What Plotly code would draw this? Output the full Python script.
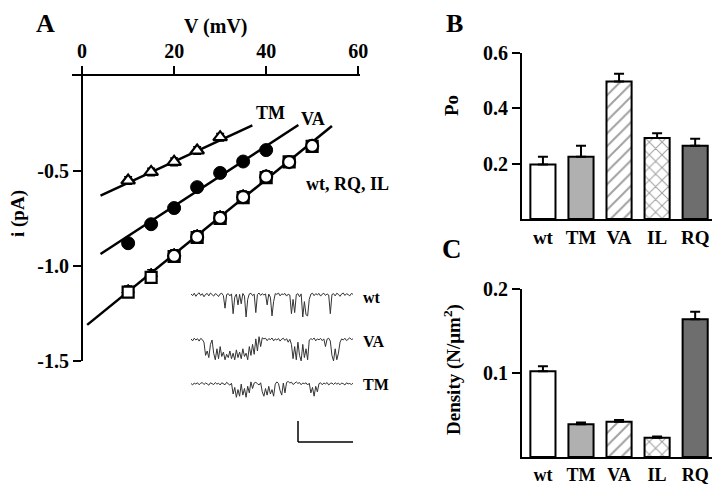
import plotly.graph_objects as go

# ---------------- Panel A data: single-channel i-V ----------------
V_TM = [10, 15, 20, 25, 30]
i_TM = [-0.55, -0.505, -0.452, -0.392, -0.322]
V_VA = [10, 15, 20, 25, 30, 35, 40]
i_VA = [-0.88, -0.78, -0.695, -0.585, -0.51, -0.45, -0.39]
V_WT = [20, 25, 30, 35, 40, 45, 50]
i_WT = [-0.947, -0.847, -0.747, -0.637, -0.53, -0.453, -0.368]
V_RQ = [10, 15, 20, 25, 30, 35, 40, 45, 50]
i_RQ = [-1.137, -1.06, -0.95, -0.85, -0.75, -0.64, -0.535, -0.452, -0.37]
V_IL = [10, 15, 20, 25, 30, 35, 40, 45, 50]
i_IL = [-1.125, -1.04, -0.935, -0.835, -0.735, -0.625, -0.52, -0.445, -0.36]
iv_err = 0.02

fit_TM_V = [4, 37]
fit_TM_i = [-0.63, -0.26]
fit_VA_V = [4, 47]
fit_VA_i = [-0.937, -0.258]
fit_WT_V = [1.1, 54.3]
fit_WT_i = [-1.31, -0.263]

# ---------------- Example single-channel recordings ----------------
trace_wt = [0.05, -0.03, 0.08, -0.06, 0.04, 0.10, -0.02, 0.06, -0.08, 0.03,
            0.07, -0.04, 0.09, 0.00, -0.05, 0.06, 0.02, -0.07, 0.05, 0.08,
            -0.03, -0.60, 0.02, 0.06, -0.04, 0.05, -0.85, -0.10, 0.04, -0.45,
            0.03, -0.40, 0.07, -0.05, -1.00, -0.20, 0.05, 0.08, -0.03, 0.04,
            -0.80, 0.02, 0.09, -0.02, 0.06, 0.00, 0.05, -0.45, 0.04, -0.10,
            -0.95, -0.30, 0.06, 0.03, 0.09, -0.04, 0.05, 0.02, 0.07, -0.05,
            0.04, 0.00, -0.85, -0.20, -0.80, 0.02, 0.06, -0.08, 0.05, -1.00,
            -0.30, -0.90, -0.95, -0.20, 0.04, 0.08, -0.03, 0.06, 0.01, 0.07,
            -0.05, 0.04, 0.08, -0.02, 0.05, 0.00, -0.85, 0.02, 0.06, -0.04,
            0.08, 0.03, -0.06, 0.05, 0.09, -0.02, 0.06, 0.02, -0.04, 0.07, 0.03]
trace_va = [0.05, -0.04, 0.08, 0.00, 0.06, -0.05, 0.07, 0.02, -0.10, -0.70,
            -0.50, -0.80, -0.20, 0.00, -0.60, -0.90, -0.40, -0.85, -0.30, -0.75,
            -0.55, -0.90, -0.65, -0.80, -0.50, -0.85, -0.60, -0.90, -0.45, -0.80,
            -0.55, -0.85, -0.40, -0.75, -0.60, -0.90, -0.30, -0.70, -0.20, -0.65,
            0.05, -0.50, 0.15, -0.30, 0.10, 0.05, 0.08, -0.03, 0.06, 0.02,
            0.09, -0.04, 0.05, 0.00, 0.07, -0.05, 0.04, 0.08, -0.02, 0.06,
            -0.10, 0.03, -0.20, -0.85, -0.30, -0.90, -0.10, -0.70, -0.95, -0.20,
            -0.80, -0.40, -0.90, 0.00, 0.06, 0.02, 0.09, -0.04, 0.05, 0.01,
            0.07, -0.03, 0.05, -0.30, 0.04, 0.08, -0.05, -0.70, -0.95, -0.40,
            -0.90, -0.60, -0.10, 0.05, 0.00, 0.08, -0.03, 0.06, 0.10, 0.02, 0.05]
trace_tm = [0.03, -0.04, 0.05, 0.00, 0.06, -0.03, 0.04, 0.07, -0.02, 0.05,
            0.01, -0.05, 0.06, 0.03, -0.02, 0.07, 0.00, 0.04, -0.04, 0.06,
            0.02, -0.03, 0.08, 0.01, -0.05, 0.04, -0.45, -0.15, -0.60, -0.25,
            -0.55, 0.00, -0.50, -0.20, -0.60, -0.10, -0.40, 0.10, -0.20, 0.05,
            0.08, 0.02, -0.04, 0.06, -0.35, -0.55, -0.20, -0.50, -0.10, -0.45,
            -0.25, -0.55, 0.00, 0.10, 0.03, -0.30, -0.50, 0.05, -0.40, 0.08,
            0.12, 0.05, 0.09, -0.02, 0.06, 0.10, 0.03, 0.07, -0.03, 0.05,
            0.02, 0.06, -0.04, 0.04, -0.40, -0.15, -0.55, -0.10, -0.35, 0.02,
            0.06, -0.03, 0.05, 0.01, 0.07, -0.04, 0.03, 0.05, -0.02, 0.06,
            0.00, 0.04, -0.03, 0.05, 0.02, -0.04, 0.06, 0.01, 0.03, -0.02, 0.04]
trace_labels = ["wt", "VA", "TM"]

# ---------------- Panels B and C data ----------------
genotypes = ["wt", "TM", "VA", "IL", "RQ"]
po = [0.197, 0.225, 0.497, 0.293, 0.265]
po_err = [0.028, 0.040, 0.028, 0.017, 0.025]
density = [0.102, 0.039, 0.042, 0.023, 0.164]
density_err = [0.006, 0.002, 0.002, 0.0015, 0.009]

bar_colors = ["white", "#b0b0b0", "white", "white", "#6e6e6e"]
bar_patterns = ["", "", "/", "x", ""]

FONT = "Liberation Serif"
# the page body has an 8 px margin, so the figure fills the rest of the 720x484 window
OFF = 8
W, H = 720 - OFF, 484 - OFF


def px(x):
    return (x - OFF) / W


def py(y):
    return 1 - (y - OFF) / H


fig = go.Figure()

# ---- Panel A ----
for fv, fi in [(fit_TM_V, fit_TM_i), (fit_VA_V, fit_VA_i), (fit_WT_V, fit_WT_i)]:
    fig.add_trace(go.Scatter(x=fv, y=fi, mode="lines",
                             line=dict(color="black", width=2.5),
                             xaxis="x", yaxis="y", hoverinfo="skip"))


def eb(n):
    return dict(type="data", array=[iv_err] * n, color="black", thickness=1.5, width=4)


fig.add_trace(go.Scatter(x=V_IL, y=i_IL, mode="markers", error_y=eb(len(V_IL)),
                         marker=dict(symbol="triangle-up", size=11, color="black",
                                     line=dict(color="black", width=1)),
                         xaxis="x", yaxis="y"))
fig.add_trace(go.Scatter(x=V_RQ, y=i_RQ, mode="markers", error_y=eb(len(V_RQ)),
                         marker=dict(symbol="square", size=11, color="white",
                                     line=dict(color="black", width=2.2)),
                         xaxis="x", yaxis="y"))
fig.add_trace(go.Scatter(x=V_WT, y=i_WT, mode="markers", error_y=eb(len(V_WT)),
                         marker=dict(symbol="circle", size=12, color="white",
                                     line=dict(color="black", width=2.2)),
                         xaxis="x", yaxis="y"))
fig.add_trace(go.Scatter(x=V_VA, y=i_VA, mode="markers", error_y=eb(len(V_VA)),
                         marker=dict(symbol="circle", size=13, color="black",
                                     line=dict(color="black", width=1)),
                         xaxis="x", yaxis="y"))
fig.add_trace(go.Scatter(x=V_TM, y=i_TM, mode="markers", error_y=eb(len(V_TM)),
                         marker=dict(symbol="triangle-up", size=12, color="white",
                                     line=dict(color="black", width=2.2)),
                         xaxis="x", yaxis="y"))

# ---- Recordings ----
trace_offsets = [0.0, -2.045, -4.05]
for tr, off in zip([trace_wt, trace_va, trace_tm], trace_offsets):
    fig.add_trace(go.Scatter(x=list(range(len(tr))), y=[v + off for v in tr],
                             mode="lines", line=dict(color="#333333", width=1),
                             xaxis="x4", yaxis="y4", hoverinfo="skip"))

# ---- Panel B and C bars ----
for vals, errs, xa, ya in [(po, po_err, "x2", "y2"), (density, density_err, "x3", "y3")]:
    fig.add_trace(go.Bar(
        x=genotypes, y=vals, width=0.66,
        marker=dict(color=bar_colors, line=dict(color="black", width=2),
                    pattern=dict(shape=bar_patterns, fgcolor="black",
                                 size=9, solidity=0.22)),
        error_y=dict(type="data", symmetric=False, array=errs,
                     arrayminus=[0] * len(errs), color="black",
                     thickness=2, width=5),
        xaxis=xa, yaxis=ya))

tickfont = dict(family=FONT, size=20, color="black", weight="bold")
axis_common = dict(showline=True, linewidth=2, linecolor="black", showgrid=False,
                   zeroline=False, ticks="outside", ticklen=8, tickwidth=2,
                   tickcolor="black", tickfont=tickfont, automargin=False)
catfont = dict(family=FONT, size=19, color="black", weight="bold")
catfont_c = dict(family=FONT, size=18, color="black", weight="bold")

fig.update_layout(
    width=W, height=H, margin=dict(l=0, r=0, t=0, b=0, pad=0, autoexpand=False),
    paper_bgcolor="white", plot_bgcolor="rgba(0,0,0,0)",
    showlegend=False, bargap=0.3,
    xaxis=dict(domain=[px(72), px(360)], range=[-2.2, 60.4], side="top",
               anchor="y", tickvals=[0, 20, 40, 60], **axis_common),
    yaxis=dict(domain=[py(361), py(76)], range=[-1.5, 0], anchor="free",
               position=px(82), tickvals=[-0.5, -1.0, -1.5],
               ticktext=["-0.5", "-1.0", "-1.5"], **axis_common),
    xaxis2=dict(domain=[px(522), px(718)], range=[-0.55, 4.6], anchor="y2",
                type="category", **{**axis_common, "ticks": "", "tickfont": catfont}),
    yaxis2=dict(domain=[py(219), py(53)], range=[0, 0.6], anchor="x2",
                tickvals=[0.2, 0.4, 0.6], ticktext=["0.2", "0.4", "0.6"], **axis_common),
    xaxis3=dict(domain=[px(522), px(718)], range=[-0.55, 4.6], anchor="y3",
                type="category", **{**axis_common, "ticks": "", "tickfont": catfont_c}),
    yaxis3=dict(domain=[py(457), py(289)], range=[0, 0.2], anchor="x3",
                tickvals=[0.1, 0.2], ticktext=["0.1", "0.2"], **axis_common),
    xaxis4=dict(domain=[px(191), px(353)], range=[0, 100], anchor="y4",
                visible=False, automargin=False),
    yaxis4=dict(domain=[py(410), py(275)], range=[-5.227, 0.909], anchor="x4",
                visible=False, automargin=False),
)

# scale bar
fig.add_shape(type="line", xref="paper", yref="paper", x0=px(298), x1=px(298),
              y0=py(421), y1=py(442), line=dict(color="black", width=1.5))
fig.add_shape(type="line", xref="paper", yref="paper", x0=px(298), x1=px(353),
              y0=py(442), y1=py(442), line=dict(color="black", width=1.5))


def ann(text, x, y, size, xanchor="center", angle=0):
    fig.add_annotation(text=text, x=px(x), y=py(y), xref="paper", yref="paper",
                       showarrow=False, xanchor=xanchor, yanchor="middle",
                       textangle=angle,
                       font=dict(family=FONT, size=size, color="black", weight="bold"))


ann("A", 45, 23, 26)
ann("B", 454, 23, 26)
ann("C", 452, 249, 27)
ann("V (mV)", 216, 27, 20)
ann("i (pA)", 18, 214, 19, angle=-90)
ann("TM", 270, 113, 18)
ann("VA", 313, 119, 18)
ann("wt, RQ, IL", 347, 184, 18)
for lab, yy in zip(trace_labels, [297, 341, 384]):
    ann(lab, 361, yy, 16, xanchor="left")
ann("Po", 452, 106, 19, angle=-90)
ann("Density (N/μm<sup>2</sup>)", 452, 370, 19, angle=-90)

fig.write_html("out.html")
